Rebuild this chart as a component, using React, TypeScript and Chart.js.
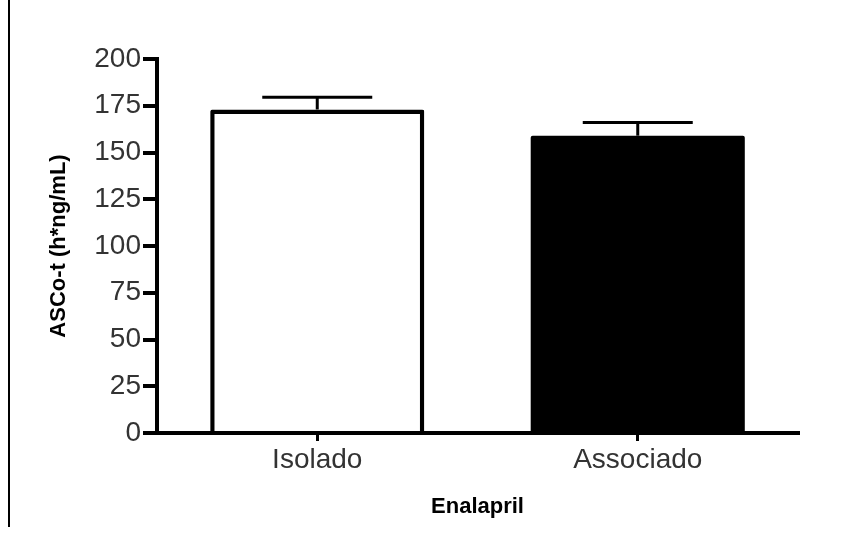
import React, { useEffect, useRef } from "react";
import { Chart, registerables } from "chart.js";

Chart.register(...registerables);

const categories = ["Isolado", "Associado"];
const means = [173, 159];
const errors = [6.5, 7];
const fillColors = ["#ffffff", "#000000"];
const yTickValues = [0, 25, 50, 75, 100, 125, 150, 175, 200];
const yTitle = "ASCo-t (h*ng/mL)";
const xTitle = "Enalapril";

const errorBarPlugin = {
  id: "errorBars",
  afterDatasetsDraw(chart: any) {
    const ctx = chart.ctx;
    const meta = chart.getDatasetMeta(0);
    const yScale = chart.scales.y;
    ctx.save();
    ctx.strokeStyle = "#000";
    ctx.lineWidth = 3;
    meta.data.forEach((bar: any, i: number) => {
      const x = bar.x;
      const yTop = yScale.getPixelForValue(means[i]);
      const yErr = yScale.getPixelForValue(means[i] + errors[i]);
      ctx.beginPath();
      ctx.moveTo(x, yTop);
      ctx.lineTo(x, yErr);
      ctx.stroke();
      ctx.beginPath();
      ctx.moveTo(x - 55, yErr);
      ctx.lineTo(x + 55, yErr);
      ctx.stroke();
    });
    ctx.restore();
  },
};

const framePlugin = {
  id: "frameLine",
  beforeDraw(chart: any) {
    const ctx = chart.ctx;
    ctx.save();
    ctx.fillStyle = "#000";
    ctx.fillRect(8, 0, 2, 527);
    ctx.restore();
  },
};

export default function App() {
  const canvasRef = useRef<HTMLCanvasElement | null>(null);

  useEffect(() => {
    if (!canvasRef.current) return;
    const chart = new Chart(canvasRef.current, {
      type: "bar",
      data: {
        labels: categories,
        datasets: [
          {
            data: means,
            backgroundColor: fillColors,
            borderColor: "#000",
            borderWidth: [4.5, 0],
            borderRadius: 2,
            borderSkipped: "start",
            barPercentage: 0.668,
            categoryPercentage: 1,
          },
        ],
      },
      options: {
        animation: false,
        responsive: false,
        devicePixelRatio: 1,
        layout: { padding: { top: 59, right: 43, bottom: 0, left: 0 } },
        plugins: {
          legend: { display: false },
          tooltip: { enabled: false },
        },
        scales: {
          x: {
            offset: true,
            grid: {
              offset: false,
              drawOnChartArea: false,
              drawTicks: true,
              tickLength: 8,
              color: "#000",
              lineWidth: 3,
            },
            border: { display: true, color: "#000", width: 4 },
            ticks: {
              color: "#333",
              padding: 2,
              font: { family: "Liberation Sans", size: 28 },
            },
            title: {
              display: true,
              text: xTitle,
              color: "#000",
              font: { family: "Liberation Sans", size: 22, weight: "bold" },
              padding: { top: 0, bottom: 13 },
            },
            afterFit: (s: any) => {
              s.height = 100;
            },
          },
          y: {
            min: 0,
            max: 200,
            afterBuildTicks: (s: any) => {
              s.ticks = yTickValues.map((v) => ({ value: v }));
            },
            grid: {
              drawOnChartArea: false,
              drawTicks: true,
              tickLength: 14,
              color: "#000",
              lineWidth: 4,
            },
            border: { display: true, color: "#000", width: 4 },
            ticks: {
              color: "#333",
              padding: 2,
              font: { family: "Liberation Sans", size: 28 },
            },
            title: {
              display: true,
              text: yTitle,
              color: "#000",
              font: { family: "Liberation Sans", size: 22, weight: "bold" },
              padding: { top: 46, bottom: 0 },
            },
            afterFit: (s: any) => {
              s.width = 157;
            },
          },
        },
      },
      plugins: [errorBarPlugin, framePlugin],
    });
    return () => chart.destroy();
  }, []);

  return (
    <canvas
      ref={canvasRef}
      width={841}
      height={533}
      style={{ position: "absolute", left: 0, top: 0, display: "block" }}
    />
  );
}
